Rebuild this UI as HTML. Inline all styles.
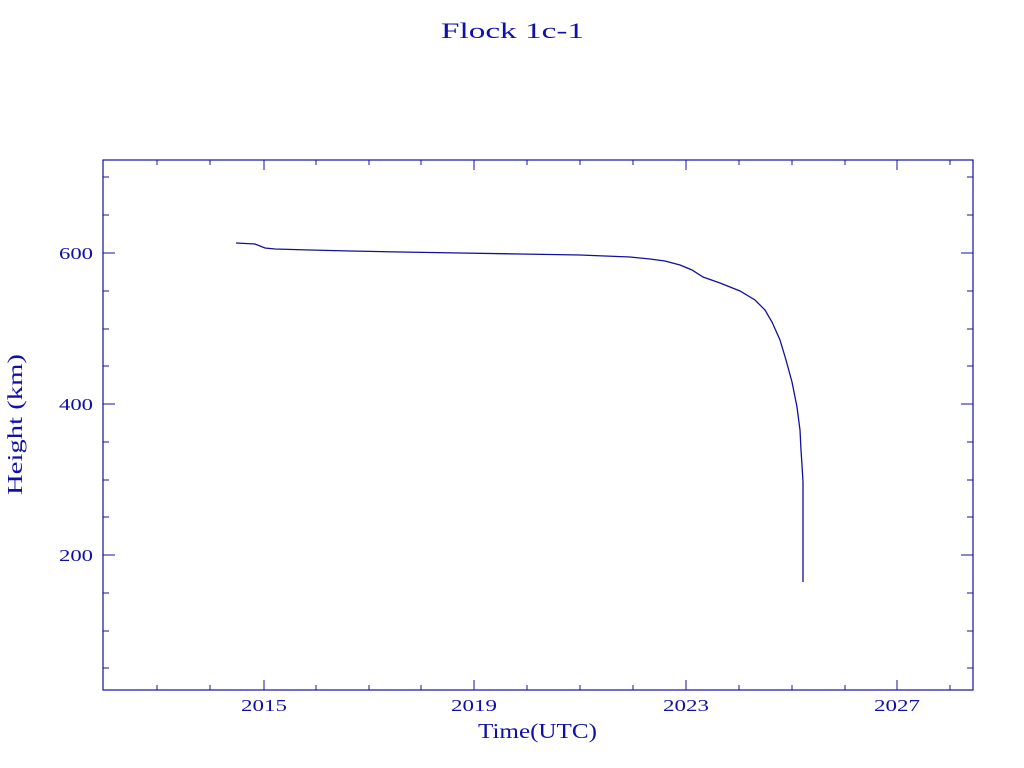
<!DOCTYPE html>
<html><head><meta charset="utf-8"><style>
html,body{margin:0;padding:0;background:#fff;}
svg{display:block;}
text{font-family:"Liberation Serif",serif;fill:#1010a8;}
</style></head><body>
<svg width="1024" height="768" xmlns="http://www.w3.org/2000/svg">
<text x="441" y="38" font-size="22" textLength="143" lengthAdjust="spacingAndGlyphs">Flock 1c-1</text>
<rect x="103" y="160" width="870" height="530" fill="none" stroke="#1010a8" stroke-width="1.2"/>
<g stroke="#1010a8" stroke-width="1">
<path d="M157 690v-5M210 690v-5M316 690v-5M369 690v-5M421 690v-5M527 690v-5M580 690v-5M633 690v-5M739 690v-5M792 690v-5M845 690v-5M950 690v-5
M157 160v5M210 160v5M316 160v5M369 160v5M421 160v5M527 160v5M580 160v5M633 160v5M739 160v5M792 160v5M845 160v5M950 160v5"/>
<path d="M264 690v-10M474 690v-10M686 690v-10M897 690v-10M264 160v10M474 160v10M686 160v10M897 160v10"/>
<path d="M103 253h12M103 404h12M103 555h12M973 253h-12M973 404h-12M973 555h-12"/>
<path d="M103 177h6M103 215h6M103 291h6M103 329h6M103 366h6M103 442h6M103 480h6M103 517h6M103 593h6M103 631h6M103 668h6
M973 177h-6M973 215h-6M973 291h-6M973 329h-6M973 366h-6M973 442h-6M973 480h-6M973 517h-6M973 593h-6M973 631h-6M973 668h-6"/>
</g>
<g font-size="17">
<text x="241" y="711" textLength="46" lengthAdjust="spacingAndGlyphs">2015</text>
<text x="451" y="711" textLength="46" lengthAdjust="spacingAndGlyphs">2019</text>
<text x="663" y="711" textLength="46" lengthAdjust="spacingAndGlyphs">2023</text>
<text x="874" y="711" textLength="46" lengthAdjust="spacingAndGlyphs">2027</text>
<text x="59" y="259" textLength="34" lengthAdjust="spacingAndGlyphs">600</text>
<text x="59" y="410" textLength="34" lengthAdjust="spacingAndGlyphs">400</text>
<text x="59" y="561" textLength="34" lengthAdjust="spacingAndGlyphs">200</text>
</g>
<text x="478" y="738" font-size="21" textLength="119" lengthAdjust="spacingAndGlyphs">Time(UTC)</text>
<text transform="translate(22,495) rotate(-90)" font-size="21" textLength="141" lengthAdjust="spacingAndGlyphs">Height (km)</text>
<polyline fill="none" stroke="#10109a" stroke-width="1.3" points="236,243 255,244 265,248 275,249 310,250 350,251 400,252 460,253 520,254 580,255 630,257 650,259 665,261 680,265 692,270 703,277 720,283 740,291 755,300 765,310 772,322 780,340 786,360 792,382 797,407 800,430 801,450 802,465 803,482 803,582"/>
</svg>
</body></html>
